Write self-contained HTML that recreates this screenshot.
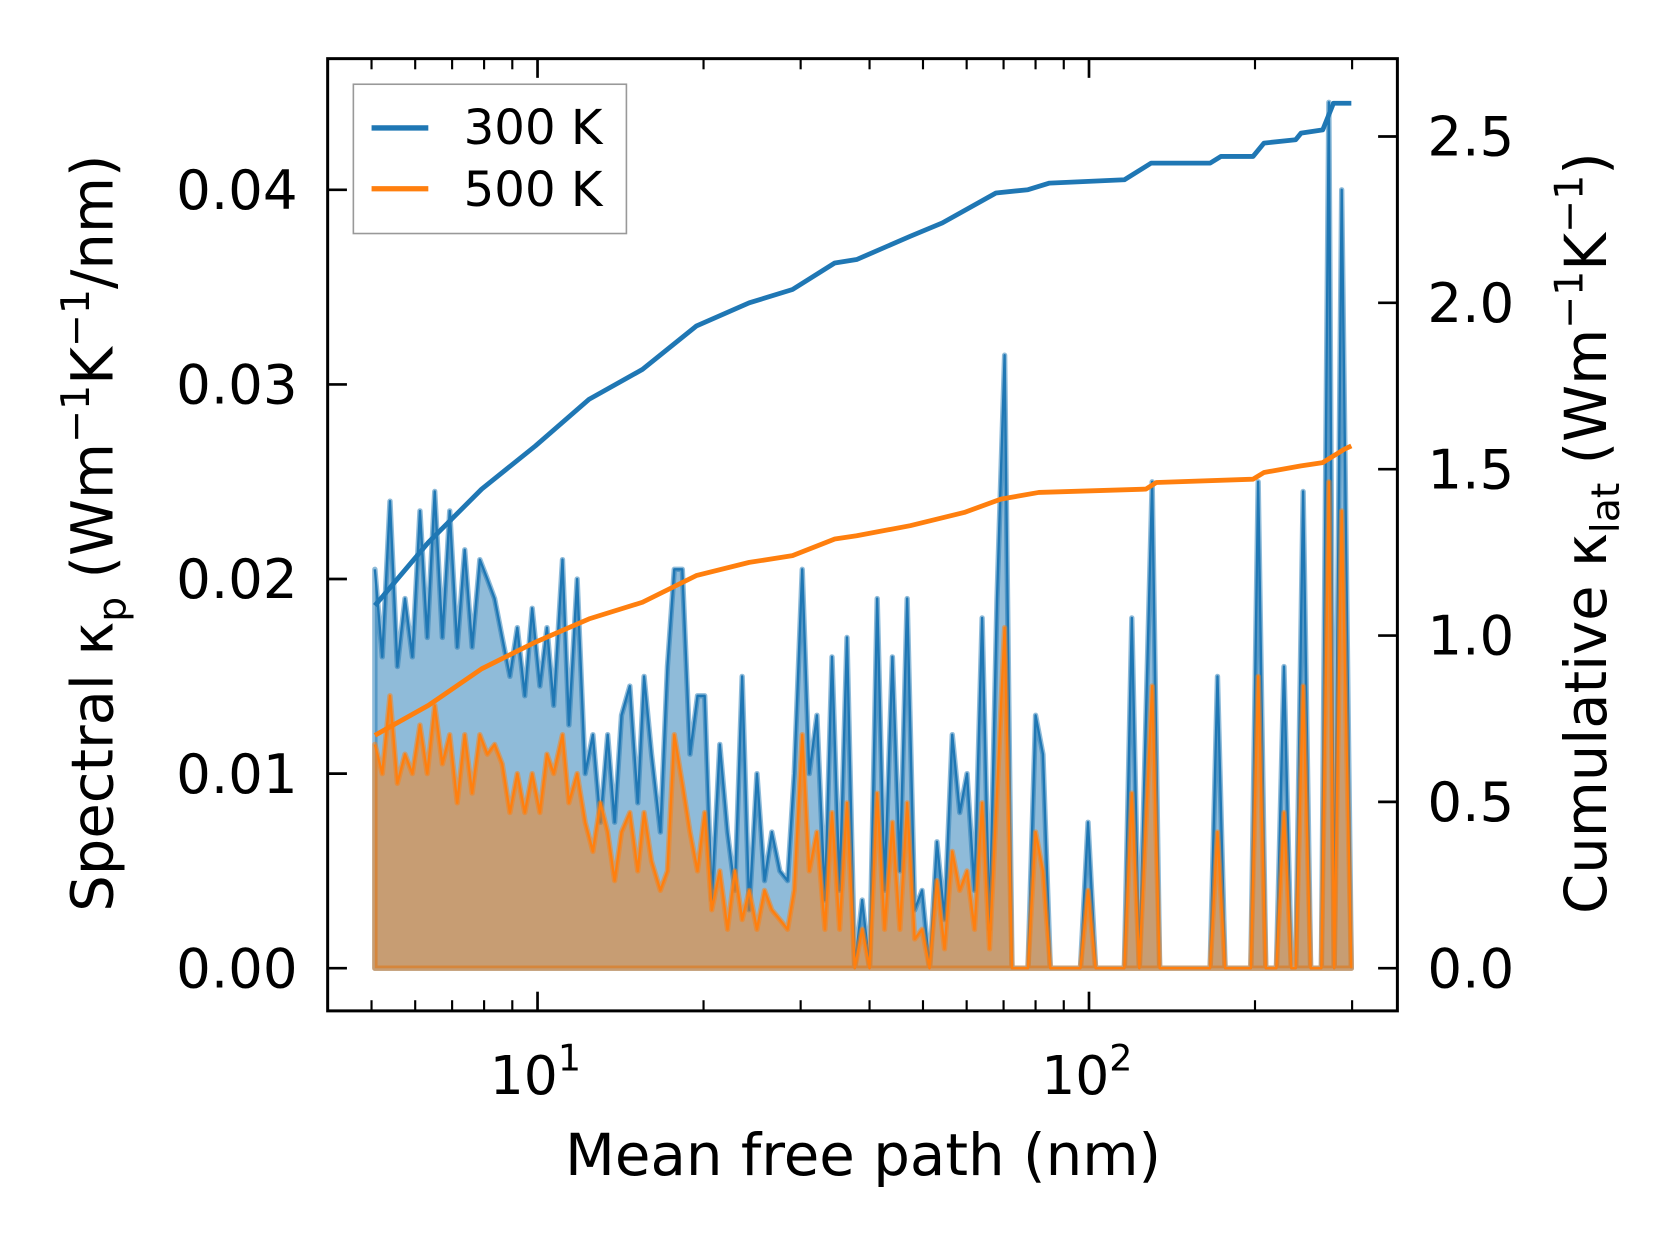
<!DOCTYPE html>
<html><head><meta charset="utf-8"><style>
html,body{margin:0;padding:0;background:#fff;}
svg{display:block;font-family:"DejaVu Sans","Liberation Sans",sans-serif;}
</style></head><body>
<svg id="chart" width="1679" height="1254" viewBox="0 0 1568 1176" preserveAspectRatio="none" xmlns="http://www.w3.org/2000/svg">
<g id="marks"></g>
<g id="axes"></g>
<g>
<rect x="330" y="79" width="255" height="140" fill="#fff" stroke="#999" stroke-width="1.5"/>
<line x1="347" y1="120" x2="400" y2="120" stroke="#1f77b4" stroke-width="5"/>
<text x="433" y="135" font-size="45">300 K</text>
<line x1="347" y1="177" x2="400" y2="177" stroke="#ff7f0e" stroke-width="5"/>
<text x="433" y="193" font-size="45">500 K</text>
</g>
<text x="806" y="1102" font-size="54" text-anchor="middle">Mean free path (nm)</text>
<text transform="translate(105,500) rotate(-90)" font-size="54" text-anchor="middle">Spectral κ<tspan font-size="37" dy="12">p</tspan><tspan dy="-12"> (Wm</tspan><tspan font-size="37" dy="-22">−1</tspan><tspan dy="22">K</tspan><tspan font-size="37" dy="-22">−1</tspan><tspan dy="22">/nm)</tspan></text>
<text transform="translate(1500,500) rotate(-90)" font-size="54" text-anchor="middle">Cumulative κ<tspan font-size="37" dy="12">lat</tspan><tspan dy="-12"> (Wm</tspan><tspan font-size="37" dy="-22">−1</tspan><tspan dy="22">K</tspan><tspan font-size="37" dy="-22">−1</tspan><tspan dy="22">)</tspan></text>
</svg>
<script>
const mfp=[5.07,5.23,5.40,5.57,5.75,5.93,6.12,6.31,6.51,6.72,6.93,7.15,7.38,7.61,7.86,8.11,8.36,8.63,8.91,9.19,9.48,9.78,10.1,10.4,10.7,11.1,11.4,11.8,12.2,12.6,13.0,13.4,13.8,14.2,14.7,15.2,15.6,16.1,16.7,17.2,17.7,18.3,18.9,19.5,20.1,20.7,21.4,22.1,22.8,23.5,24.2,25.0,25.8,26.6,27.5,28.4,29.2,30.2,31.1,32.1,33.2,34.2,35.3,36.4,37.6,38.8,40.0,41.3,42.6,44.0,45.4,46.8,48.3,49.8,51.4,53.0,54.7,56.5,58.3,60.1,62.0,64.0,66.0,68.1,70.3,72.5,77.5,80,82.5,85.1,96.5,99.6,102.8,115.9,119.6,123.4,130.2,134.3,165.8,171,176.5,196.5,202.7,209.2,218.7,225.7,232.8,237,244.5,252.3,263.8,272.2,278.4,287.3,299];
const kp300=[20.5,16,24,15.5,19,16,23.5,17,24.5,17,23.5,16.5,21.5,16.5,21,20,19,17,15,17.5,14,18.5,14.5,17.5,13.5,21,12.5,20,10,12,7.5,12,7.5,13,14.5,8.5,15,11,7,15.5,20.5,20.5,11,14,14,3.5,11.5,7,4,15,3,10,4.5,7,5,4.5,10,20.5,10,13,3.5,16,4,17,0,3.5,0,19,4,16,5,19,3,4,0,6.5,2.5,12,8,10,4,18,2,19,31.5,0,0,13,11,0,0,7.5,0,0,18,0,25,0,0,15,0,0,25,0,0,15.5,0,0,24.5,0,0,44.5,0,40,0];
const kp500=[11.5,10,14,9.5,11,10,12.5,10,13.5,10.5,12,8.5,12,9,12,11,11.5,10.5,8,10,8,10,8,11,10,12,8.5,10,7.5,6,8.5,7,4.5,7,8,5,8,5.5,4,5,12,9.5,7,5,8,3,5,2,5,2.5,4,2,4,3,2.5,2,4,12,5,7,2,8,2,8.5,0,2,0,9,2,7.5,2,8.5,1.5,2,0,4.5,1,6,4,5,2,8.5,1,9,17.5,0,0,7,5,0,0,4,0,0,9,0,14.5,0,0,7,0,0,15,0,0,8,0,0,14.5,0,0,25,0,23.5,0];
const cumMfp300=[5.07,6.34,7.92,9.91,12.4,15.5,19.4,24.2,29.0,34.6,37.9,47.4,54.2,67.8,77.5,84.8,115.9,129.6,165.8,173.5,198.4,207.6,237,242.4,265.4,277.5,299];
const cum300=[1.09,1.28,1.44,1.57,1.71,1.80,1.93,2.00,2.04,2.12,2.13,2.20,2.24,2.33,2.34,2.36,2.37,2.42,2.42,2.44,2.44,2.48,2.49,2.51,2.52,2.60,2.60];
const cumMfp500=[5.07,6.34,7.92,9.91,12.4,15.5,19.4,24.2,29.0,34.6,37.9,47.4,59.4,69.2,81.1,126.8,132.5,198.4,207.6,242.4,265.4,290.4,299];
const cum500=[0.70,0.79,0.90,0.98,1.05,1.10,1.18,1.22,1.24,1.29,1.30,1.33,1.37,1.41,1.43,1.44,1.46,1.47,1.49,1.51,1.52,1.56,1.57];
const leftTicks=[0,0.01,0.02,0.03,0.04];
const leftTickLabels=["0.00","0.01","0.02","0.03","0.04"];
const rightTicks=[0,0.5,1,1.5,2,2.5];
const rightTickLabels=["0.0","0.5","1.0","1.5","2.0","2.5"];
const xMajor=[10,100];
const xMinor=[5,6,7,8,9,20,30,40,50,60,70,80,90,200,300];

const L=306,R=1305,T=55,B=948;
const X=v=>502+515*(Math.log10(v)-1);
const YL=v=>908-18250*v;
const YR=v=>908-312*v;
const NS="http://www.w3.org/2000/svg";
function mk(tag,parent,attrs){const e=document.createElementNS(NS,tag);for(const k in attrs)e.setAttribute(k,attrs[k]);parent.appendChild(e);return e;}
const marks=document.getElementById('marks'), axes=document.getElementById('axes');

function spectral(vals,color,name){
  let pts=mfp.map((m,i)=>X(m).toFixed(1)+','+YL(vals[i]/1000).toFixed(1));
  const area=mk('polygon',marks,{points:X(mfp[0])+','+YL(0)+' '+pts.join(' ')+' '+X(mfp[mfp.length-1])+','+YL(0),fill:color,'fill-opacity':0.5,stroke:color,'stroke-opacity':0.5,'stroke-width':5,'stroke-linejoin':'round'});
  
  
  const ln=mk('polyline',marks,{points:pts.join(' '),fill:'none',stroke:color,'stroke-width':2.2,'stroke-linejoin':'round'});
  
  
}
spectral(kp300,'#1f77b4','300k');
spectral(kp500,'#ff7f0e','500k');
function cum(xs,vals,color,name){
  const ln=mk('polyline',marks,{points:xs.map((m,i)=>X(m).toFixed(1)+','+YR(vals[i]).toFixed(1)).join(' '),fill:'none',stroke:color,'stroke-width':4.5,'stroke-linejoin':'round'});
  
  
}
cum(cumMfp300,cum300,'#1f77b4','300k');
cum(cumMfp500,cum500,'#ff7f0e','500k');

const frame=mk('rect',axes,{x:L,y:T,width:R-L,height:B-T,fill:'none',stroke:'#000','stroke-width':2.8});


leftTicks.forEach((v,i)=>{
  const y=YL(v);
  const t=mk('line',axes,{x1:L,y1:y,x2:L+18,y2:y,stroke:'#000','stroke-width':2.5});
  
  
  const tx=mk('text',axes,{x:L-28,y:y+18,'font-size':51,'text-anchor':'end'});
  tx.textContent=leftTickLabels[i];
  
  
});
rightTicks.forEach((v,i)=>{
  const y=YR(v);
  const t=mk('line',axes,{x1:R,y1:y,x2:R-18,y2:y,stroke:'#000','stroke-width':2.5});
  
  
  const tx=mk('text',axes,{x:R+28,y:y+18,'font-size':51});
  tx.textContent=rightTickLabels[i];
  
  
});
xMajor.forEach(v=>{
  const x=X(v);
  [[B,B-18],[T,T+18]].forEach(p=>{
    const t=mk('line',axes,{x1:x,y1:p[0],x2:x,y2:p[1],stroke:'#000','stroke-width':2.5});
    
    
  });
  const tx=mk('text',axes,{x:x-2,y:1026,'font-size':50,'text-anchor':'middle'});
  tx.innerHTML='10<tspan font-size="34" dy="-22">'+Math.round(Math.log10(v))+'</tspan>';
  
  
});
xMinor.forEach(v=>{
  const x=X(v);
  [[B,B-10],[T,T+10]].forEach(p=>{
    const t=mk('line',axes,{x1:x,y1:p[0],x2:x,y2:p[1],stroke:'#000','stroke-width':2});
    
    
  });
});
</script>
</body></html>
